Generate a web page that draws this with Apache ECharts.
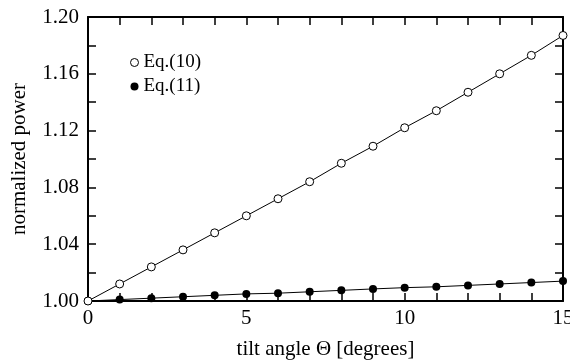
<!DOCTYPE html>
<html><head><meta charset="utf-8">
<script src="https://cdn.jsdelivr.net/npm/echarts@6/dist/echarts.min.js"></script>
<style>html,body{margin:0;padding:0;background:#fff}#c{width:570px;height:360px}</style>
</head><body><div id="c"></div>
<script>
const tiltAngles = [0,1,2,3,4,5,6,7,8,9,10,11,12,13,14,15];
const eq10 = [1.000,1.012,1.024,1.036,1.048,1.060,1.072,1.084,1.097,1.109,1.122,1.134,1.147,1.160,1.173,1.187];
const eq11 = [1.000,1.001,1.002,1.003,1.004,1.005,1.0055,1.0065,1.0075,1.0085,1.0094,1.010,1.011,1.012,1.013,1.014];
const seriesNames = ['Eq.(10)','Eq.(11)'];
const xTitle = 'tilt angle \u0398 [degrees]';
const yTitle = 'normalized power';

const font = 'Liberation Serif';
const axisLine = {show:true,onZero:false,lineStyle:{color:'#000',width:2}};
const axisTick = {show:true,inside:true,length:8,lineStyle:{color:'#000',width:1.5}};
const chart = echarts.init(document.getElementById('c'));
chart.setOption({
  animation:false,
  backgroundColor:'#fff',
  grid:{left:88,right:7,top:17,bottom:59,containLabel:false,outerBoundsMode:'none'},
  legend:{
    orient:'vertical',left:125,top:48,itemWidth:8,itemHeight:8,itemGap:5,
    textStyle:{fontFamily:font,fontSize:19,color:'#000'},
    data:[
      {name:seriesNames[0],icon:'circle',itemStyle:{color:'#fff',borderColor:'#000',borderWidth:1}},
      {name:seriesNames[1],icon:'circle',itemStyle:{color:'#000'}}
    ]
  },
  xAxis:[
    {type:'value',position:'bottom',min:0,max:15,interval:5,
      axisLine:axisLine,axisTick:axisTick,splitLine:{show:false},
      minorTick:{show:true,splitNumber:5,length:8,lineStyle:{color:'#000',width:1.5}},
      name:xTitle,nameLocation:'middle',nameGap:38,
      nameTextStyle:{fontFamily:font,fontSize:21,color:'#000'},
      axisLabel:{fontFamily:font,fontSize:21,color:'#000',margin:7}},
    {type:'value',position:'top',min:0,max:15,interval:5,
      axisLine:axisLine,axisTick:axisTick,
      minorTick:{show:true,splitNumber:5,length:8,lineStyle:{color:'#000',width:1.5}},
      axisLabel:{show:false},splitLine:{show:false}}
  ],
  yAxis:[
    {type:'value',position:'left',min:1.00,max:1.20,interval:0.04,
      axisLine:axisLine,axisTick:axisTick,
      minorTick:{show:true,splitNumber:2,length:8,lineStyle:{color:'#000',width:1.5}},
      splitLine:{show:false},
      name:yTitle,nameLocation:'middle',nameGap:58,nameRotate:90,
      nameTextStyle:{fontFamily:font,fontSize:21,color:'#000'},
      axisLabel:{fontFamily:font,fontSize:21,color:'#000',margin:9,formatter:v=>v.toFixed(2)}},
    {type:'value',position:'right',min:1.00,max:1.20,interval:0.04,
      axisLine:axisLine,axisTick:axisTick,
      minorTick:{show:true,splitNumber:2,length:8,lineStyle:{color:'#000',width:1.5}},
      axisLabel:{show:false},splitLine:{show:false}}
  ],
  series:[
    {name:seriesNames[1],type:'line',z:2,data:tiltAngles.map((x,i)=>[x,eq11[i]]),
      symbol:'circle',symbolSize:8,showAllSymbol:true,
      lineStyle:{color:'#000',width:1},itemStyle:{color:'#000'}},
    {name:seriesNames[0],type:'line',z:3,data:tiltAngles.map((x,i)=>[x,eq10[i]]),
      symbol:'circle',symbolSize:8,showAllSymbol:true,
      lineStyle:{color:'#000',width:1},itemStyle:{color:'#fff',borderColor:'#000',borderWidth:1}}
  ]
});
</script></body></html>
